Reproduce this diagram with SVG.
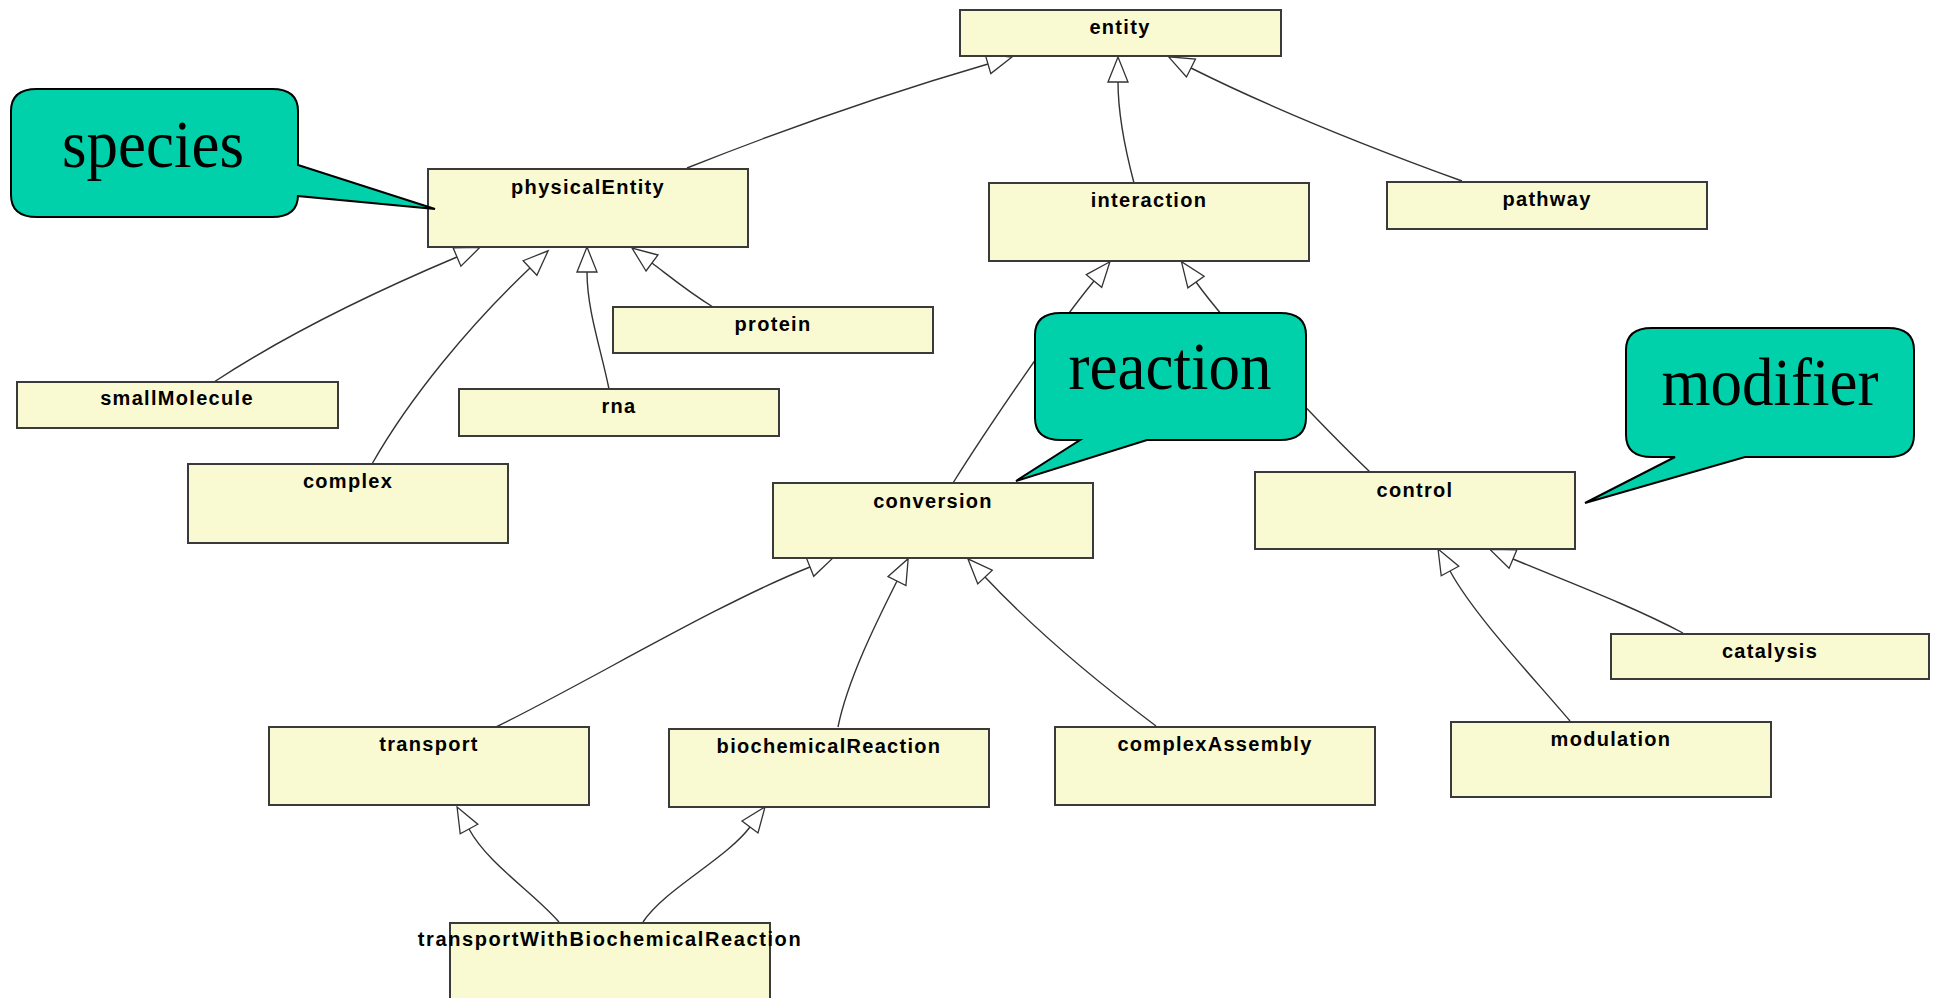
<svg xmlns="http://www.w3.org/2000/svg" width="1939" height="998" viewBox="0 0 1939 998">
<style>
.box{fill:#FAFAD2;stroke:#3a3a3a;stroke-width:2}
.lbl{font-family:"Liberation Sans",Arial,sans-serif;font-weight:bold;font-size:20px;letter-spacing:1.3px;fill:#000;text-anchor:middle}
.edge{fill:none;stroke:#333;stroke-width:1.4;marker-end:url(#tri)}
.call{fill:#00D1AA;stroke:#000;stroke-width:2;stroke-linejoin:miter}
.ctext{font-family:"Liberation Serif","Times New Roman",serif;font-size:63px;fill:#000;text-anchor:middle}
</style>
<defs>
<marker id="tri" markerUnits="userSpaceOnUse" markerWidth="28" markerHeight="24" viewBox="-1 -12 28 24" refX="0" refY="0" orient="auto" overflow="visible">
<path d="M0,-10 L25,0 L0,10 Z" fill="#fff" stroke="#333" stroke-width="1.3"/>
</marker>
</defs>
<rect width="1939" height="998" fill="#fff"/>
<g id="connectors">
<path class="edge" d="M687,168 C780,131 892,92 988,64"/>
<path class="edge" d="M1134,183 C1125,149 1118,115 1118,82"/>
<path class="edge" d="M1462,181 C1368,147 1271,108 1191,68"/>
<path class="edge" d="M214,382 C290,332 374,292 457,257"/>
<path class="edge" d="M372,464 C410,397 470,325 530,268"/>
<path class="edge" d="M609,389 C601,349 587,310 587,272"/>
<path class="edge" d="M713,307 C687,291 668,275 652,263"/>
<path class="edge" d="M496,727 C586,683 717,604 810,567"/>
<path class="edge" d="M838,727 C848,678 879,617 897,581"/>
<path class="edge" d="M1156,726 C1092,678 1033,628 985,577"/>
<path class="edge" d="M953,483 C985,432 1056,327 1094,281"/>
<path class="edge" d="M1370,472 C1327,431 1231,331 1196,282"/>
<path class="edge" d="M1570,721 C1531,675 1474,615 1450,571"/>
<path class="edge" d="M1683,633 C1630,605 1568,582 1513,559"/>
<path class="edge" d="M559,922 C533,892 488,864 469,829"/>
<path class="edge" d="M643,922 C665,889 726,859 750,827"/>
</g>
<g id="entity"><rect class="box" x="960" y="10" width="321" height="46"/><text class="lbl" x="1120" y="34">entity</text></g>
<g id="physicalEntity"><rect class="box" x="428" y="169" width="320" height="78"/><text class="lbl" x="588" y="194">physicalEntity</text></g>
<g id="interaction"><rect class="box" x="989" y="183" width="320" height="78"/><text class="lbl" x="1149" y="207">interaction</text></g>
<g id="pathway"><rect class="box" x="1387" y="182" width="320" height="47"/><text class="lbl" x="1547" y="206">pathway</text></g>
<g id="protein"><rect class="box" x="613" y="307" width="320" height="46"/><text class="lbl" x="773" y="331">protein</text></g>
<g id="smallMolecule"><rect class="box" x="17" y="382" width="321" height="46"/><text class="lbl" x="177" y="405">smallMolecule</text></g>
<g id="rna"><rect class="box" x="459" y="389" width="320" height="47"/><text class="lbl" x="619" y="413">rna</text></g>
<g id="complex"><rect class="box" x="188" y="464" width="320" height="79"/><text class="lbl" x="348" y="488">complex</text></g>
<g id="conversion"><rect class="box" x="773" y="483" width="320" height="75"/><text class="lbl" x="933" y="508">conversion</text></g>
<g id="control"><rect class="box" x="1255" y="472" width="320" height="77"/><text class="lbl" x="1415" y="497">control</text></g>
<g id="catalysis"><rect class="box" x="1611" y="634" width="318" height="45"/><text class="lbl" x="1770" y="658">catalysis</text></g>
<g id="transport"><rect class="box" x="269" y="727" width="320" height="78"/><text class="lbl" x="429" y="751">transport</text></g>
<g id="biochemicalReaction"><rect class="box" x="669" y="729" width="320" height="78"/><text class="lbl" x="829" y="753">biochemicalReaction</text></g>
<g id="complexAssembly"><rect class="box" x="1055" y="727" width="320" height="78"/><text class="lbl" x="1215" y="751">complexAssembly</text></g>
<g id="modulation"><rect class="box" x="1451" y="722" width="320" height="75"/><text class="lbl" x="1611" y="746">modulation</text></g>
<g id="transportWithBiochemicalReaction"><rect class="box" x="450" y="923" width="320" height="90"/><text class="lbl" x="610" y="946" style="letter-spacing:1.6px">transportWithBiochemicalReaction</text></g>
<g id="callout-species"><path class="call" d="M37,89 H272 Q298,89 298,111 V165 L435,209 L298,196 V195 Q298,217 272,217 H37 Q11,217 11,195 V111 Q11,89 37,89 Z"/><text class="ctext" x="153" y="167" transform="translate(0,167) scale(1,1.07) translate(0,-167)">species</text></g>
<g id="callout-reaction"><path class="call" d="M1061,313 H1280 Q1306,313 1306,335 V418 Q1306,440 1280,440 H1147 L1016,481 L1080,440 H1061 Q1035,440 1035,418 V335 Q1035,313 1061,313 Z"/><text class="ctext" x="1170" y="389" transform="translate(0,389) scale(1,1.07) translate(0,-389)">reaction</text></g>
<g id="callout-modifier"><path class="call" d="M1652,328 H1888 Q1914,328 1914,350 V435 Q1914,457 1888,457 H1745 L1585,503 L1675,457 H1652 Q1626,457 1626,435 V350 Q1626,328 1652,328 Z"/><text class="ctext" x="1770" y="405" transform="translate(0,405) scale(1,1.07) translate(0,-405)">modifier</text></g>
</svg>
